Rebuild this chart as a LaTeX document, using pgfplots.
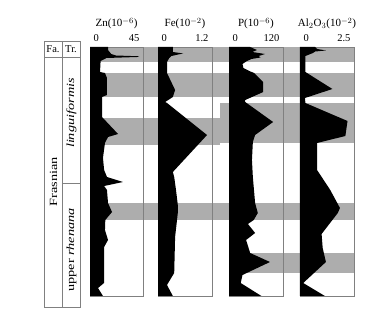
\documentclass[border=0pt]{standalone}
\usepackage{fontspec}
\setmainfont{Liberation Serif}
\usepackage{graphicx}
\usepackage{pgfplots}
\pgfplotsset{compat=1.18}
\definecolor{bandgray}{gray}{0.68}
\definecolor{framegray}{gray}{0.5}

\pgfplotstableread{
v y
0 47
15.3 47
15.3 50
18 54
22 55.5
42 56.3
40 57
14 58
9 61
8.5 72
12.7 73
14.4 78
14.4 95
10.2 97
10.2 117
23.8 134
15.3 137
12.7 143
11 158
12 170
14.4 177
28 182
12 186
14.4 190
15.3 203
18.7 212
13 220
12.7 230
15.3 240
12 247
11.9 283
6.8 288
11 296
0 296
}\zndata

\pgfplotstableread{
v y
0 47
0.33 47
0.33 52
0.56 53.5
0.45 54.5
0.3 56
0.25 58
0.2 62
0.2 73
0.38 90
0.33 97
0.16 102
0.2 103
1.09 135
0.33 172
0.36 177
0.4 190
0.44 205
0.44 213
0.38 237
0.36 273
0.2 285
0.33 296
0 296
}\fedata

\pgfplotstableread{
v y
0 47
47 47
62 50
52 52
80 54
66 56
70 57.5
50 59
40 61
30 64
32 68
45 71
56 73
76 82
76 92
36 100
36 102
98 122
58 135
53 142
51 160
53 177
58 203
64 213
55 220
42 224
58 233
38 240
47 253
91 262
30 275
26 283
72 296
0 296
}\pdata

\pgfplotstableread{
v y
0 47
0.7 47
0.8 49
1.2 50.5
0.7 51.5
0.6 53
0.25 56
0.25 72
1.5 89
0.23 98
0.25 103
2.2 121
2.1 136
0.79 143
0.79 170
1.4 190
1.85 208
1.75 213
1.0 234
1.05 248
1.2 262
0.15 283
1.15 296
0 296
}\aldata

\pgfplotsset{
  panel/.style={
    scale only axis, height=249pt, anchor=south west,
    ymin=47, ymax=296, y dir=reverse, ytick=\empty,
    axis line style={draw=framegray, line width=0.6pt},
    xticklabel pos=upper, major tick length=0pt,
    /pgf/number format/assume math mode=true,
    xticklabel style={font=\fontsize{10.5}{12}\selectfont, anchor=south west, xshift=0pt, yshift=1.5pt},
    extra x tick style={xticklabel style={anchor=south east}},
    every axis title/.style={at={(0.5,1)}, anchor=base, yshift=20pt, font=\fontsize{11}{13}\selectfont},
    clip=true,
  },
  band/.style={fill=bandgray, draw=none},
}

\begin{document}
\begin{tikzpicture}
\useasboundingbox (0,0) rectangle (368pt,313pt);

% background bands
\begin{axis}[scale only axis, width=264pt, height=249pt, at={(90pt,17pt)}, anchor=south west,
  xmin=90, xmax=354, ymin=47, ymax=296, y dir=reverse, hide axis]
\addplot[band] coordinates {(90,47) (354,47) (354,62) (90,62)};
\addplot[band] coordinates {(90,73) (354,73) (354,97) (90,97)};
\addplot[band] coordinates {(90,118) (220,118) (220,145) (90,145)};
\addplot[band] coordinates {(220,103) (354,103) (354,143) (220,143)};
\addplot[band] coordinates {(90,203) (354,203) (354,220) (90,220)};
\addplot[band] coordinates {(229,253) (354,253) (354,273) (229,273)};
\end{axis}

\begin{axis}[panel, width=53pt, at={(90pt,17pt)}, xmin=0, xmax=45, xtick={0}, extra x ticks={45},
  title={Zn(10$^{-6}$)}]
\addplot[fill=black, draw=none] table[x=v, y=y] {\zndata};
\end{axis}

\begin{axis}[panel, width=54pt, at={(158pt,17pt)}, xmin=0, xmax=1.2, xtick={0}, extra x ticks={1.2},
  title={Fe(10$^{-2}$)}]
\addplot[fill=black, draw=none] table[x=v, y=y] {\fedata};
\end{axis}

\begin{axis}[panel, width=54pt, at={(229pt,17pt)}, xmin=0, xmax=120, xtick={0}, extra x ticks={120},
  title={P(10$^{-6}$)}]
\addplot[fill=black, draw=none] table[x=v, y=y] {\pdata};
\end{axis}

\begin{axis}[panel, width=54pt, at={(300pt,17pt)}, xmin=0, xmax=2.5, xtick={0}, extra x ticks={2.5},
  title={Al$_2$O$_3$(10$^{-2}$)}]
\addplot[fill=black, draw=none] table[x=v, y=y] {\aldata};
\end{axis}

% stratigraphic column
\draw[framegray, line width=0.6pt] (44pt,6pt) rectangle (80pt,272pt);
\draw[framegray, line width=0.6pt] (44pt,256pt) -- (80pt,256pt);
\draw[framegray, line width=0.6pt] (62pt,6pt) -- (62pt,272pt);
\draw[framegray, line width=0.6pt] (62pt,130pt) -- (80pt,130pt);
\node[font=\fontsize{10.5}{12}\selectfont] at (53pt,264pt) {Fa.};
\node[font=\fontsize{10.5}{12}\selectfont] at (71pt,264pt) {Tr.};
\node[rotate=90, font=\fontsize{11}{13}\selectfont] at (53.5pt,131pt) {\scalebox{1.3}[1]{Frasnian}};
\node[rotate=90, font=\fontsize{11}{13}\selectfont] at (71.5pt,200pt) {\scalebox{1.3}[1]{\itshape linguiformis}};
\node[rotate=90, font=\fontsize{11}{13}\selectfont] at (71.5pt,63pt) {\scalebox{1.3}[1]{upper \textit{rhenana}}};
\end{tikzpicture}
\end{document}
